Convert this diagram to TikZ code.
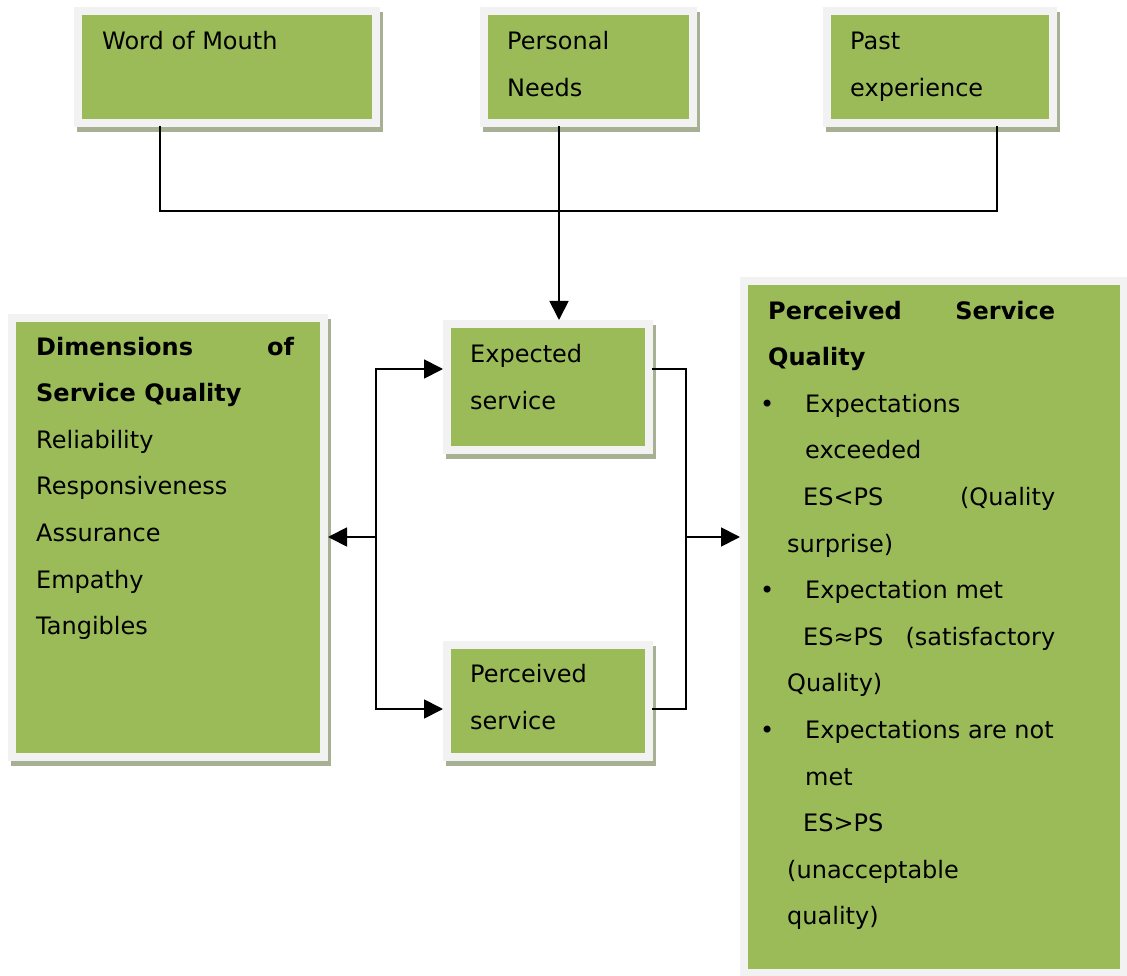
\documentclass[tikz,border=0pt]{standalone}
\usepackage{fontspec}
\setmainfont{DejaVu Sans}
\usetikzlibrary{arrows.meta,shadows}
\definecolor{boxgreen}{RGB}{155,187,89}
\definecolor{boxrim}{RGB}{242,242,242}
\definecolor{boxshade}{RGB}{168,176,148}
\tikzset{
    panel/.style={rectangle,fill=boxgreen,draw=boxrim,line width=8pt,inner sep=0pt,
        drop shadow={shadow xshift=3pt,shadow yshift=-5pt,fill=boxshade,draw=boxshade,line width=8pt,opacity=1}},
    words/.style={anchor=base west,inner sep=0pt,align=left,font=\fontsize{24}{46.6}\selectfont},
    link/.style={draw=black,line width=1.8pt,line cap=rect},
    tip/.style={-{Triangle[length=19pt,width=19pt]}},
}
\begin{document}
\begin{tikzpicture}[x=1pt,y=-1pt]
            \useasboundingbox (0,0) rectangle (1127,976);
            \begin{scope}[every node/.style={panel}]
                \node[minimum width=298pt,minimum height=112pt] (wom) at (227,67) {};
                \node[minimum width=209pt,minimum height=112pt] (pn) at (588.5,67) {};
                \node[minimum width=226pt,minimum height=112pt] (pe) at (940,67) {};
                \node[minimum width=202pt,minimum height=126pt] (exp) at (548,387) {};
                \node[minimum width=202pt,minimum height=112pt] (perc) at (548,701) {};
                \node[minimum width=312pt,minimum height=439pt] (dims) at (168,537.5) {};
                \node[minimum width=380pt,minimum height=692pt] (psq) at (934,627) {};
            \end{scope}
            % texts sit on the baseline of their last line
            \begin{scope}[every node/.style={words}]
                \node (womtxt) at (102,50) {Word of Mouth};
                \node (pntxt) at (507,96.6) {Personal\\Needs};
                \node (petxt) at (850,96.6) {Past\\experience};
                \node (exptxt) at (470,409) {Expected\\service};
                \node (perctxt) at (470,729) {Perceived\\service};
                \node (dimtxt) at (36,634.6) {\makebox[258pt][l]{\textbf{Dimensions}\hfill\textbf{of}}\\
                    \textbf{Service Quality}\\Reliability\\Responsiveness\\Assurance\\Empathy\\Tangibles};
                \node (psqtxt) at (760,924.8) {\hspace*{8pt}\makebox[287pt][l]{\textbf{Perceived}\hfill\textbf{Service}}\\
                    \hspace*{8pt}\textbf{Quality}\\
                    \makebox[45pt][l]{•}Expectations\\
                    \hspace*{45pt}exceeded\\
                    \hspace*{43pt}\makebox[252pt][l]{ES<PS\hfill(Quality}\\
                    \hspace*{27pt}surprise)\\
                    \makebox[45pt][l]{•}Expectation met\\
                    \hspace*{43pt}\makebox[252pt][l]{ES≈PS\hfill(satisfactory}\\
                    \hspace*{27pt}Quality)\\
                    \makebox[45pt][l]{•}Expectations are not\\
                    \hspace*{45pt}met\\
                    \hspace*{43pt}ES>PS\\
                    \hspace*{27pt}(unacceptable\\
                    \hspace*{27pt}quality)};
            \end{scope}
            \coordinate (womdrop) at (160,211);
            \coordinate (hub) at (559,211);
            \coordinate (pedrop) at (997,211);
            \coordinate (lup) at (376,369);
            \coordinate (lmid) at (376,537);
            \coordinate (llow) at (376,709);
            \coordinate (rup) at (686,369);
            \coordinate (rmid) at (686,537);
            \coordinate (rlow) at (686,709);
            \begin{scope}[every edge/.style={link}]
                \path (wom.south -| womdrop) edge (womdrop);
                \path (womdrop) edge (pedrop);
                \path (pe.south -| pedrop) edge (pedrop);
                \path (pn.south -| hub) edge[tip] (exp.north -| hub);
                \path (lup) edge (llow);
                \path (lup) edge[tip] (exp.west |- lup);
                \path (llow) edge[tip] (perc.west |- llow);
                \path (lmid) edge[tip] (dims.east |- lmid);
                \path (exp.east |- rup) edge (rup);
                \path (rup) edge (rlow);
                \path (perc.east |- rlow) edge (rlow);
                \path (rmid) edge[tip] (psq.west |- rmid);
            \end{scope}
\end{tikzpicture}
\end{document}
